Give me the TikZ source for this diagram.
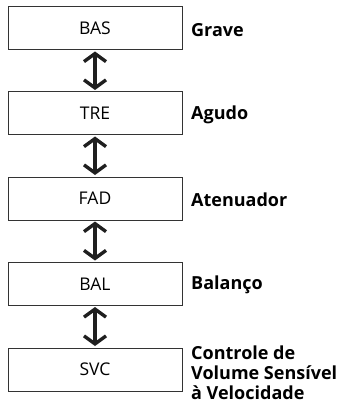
\documentclass[tikz,border=0pt]{standalone}
\usepackage{fontspec}
\setmainfont{Open Sans}
\usetikzlibrary{arrows.meta}
\begin{document}
\begin{tikzpicture}[x=1pt,y=-1pt,
  box/.style={draw=black!80,line width=1pt,minimum width=174pt,minimum height=43pt,inner sep=0pt,font=\fontsize{17.5}{20}\selectfont,text=black},
  lbl/.style={anchor=west,font=\bfseries\fontsize{18}{20}\selectfont,align=left,inner sep=0pt,text=black},
  link/.style={line width=3.4pt,draw=black!88,{Straight Barb[length=8pt,width=22pt,line width=3.4pt]}-{Straight Barb[length=8pt,width=22pt,line width=3.4pt]},shorten <=1pt,shorten >=1.5pt}]
\useasboundingbox (0,0) rectangle (347,406);
\node[box] (bas) at (95,28.5) {BAS};
\node[box] (tre) at (95,113.5) {TRE};
\node[box] (fad) at (95,198.5) {FAD};
\node[box] (bal) at (95,284) {BAL};
\node[box] (svc) at (95,369.5) {SVC};
\node[lbl] (lbas) at (191,30) {Grave};
\node[lbl] (ltre) at (191,115) {Agudo};
\node[lbl] (lfad) at (191,200) {Atenuador};
\node[lbl] (lbal) at (191,285) {Balanço};
\node[lbl,anchor=north west] (lsvc) at (191,346) {Controle de\\Volume Sensível\\à Velocidade};
\draw[link] (bas.south) -- (tre.north);
\draw[link] (tre.south) -- (fad.north);
\draw[link] (fad.south) -- (bal.north);
\draw[link] (bal.south) -- (svc.north);
\end{tikzpicture}
\end{document}
